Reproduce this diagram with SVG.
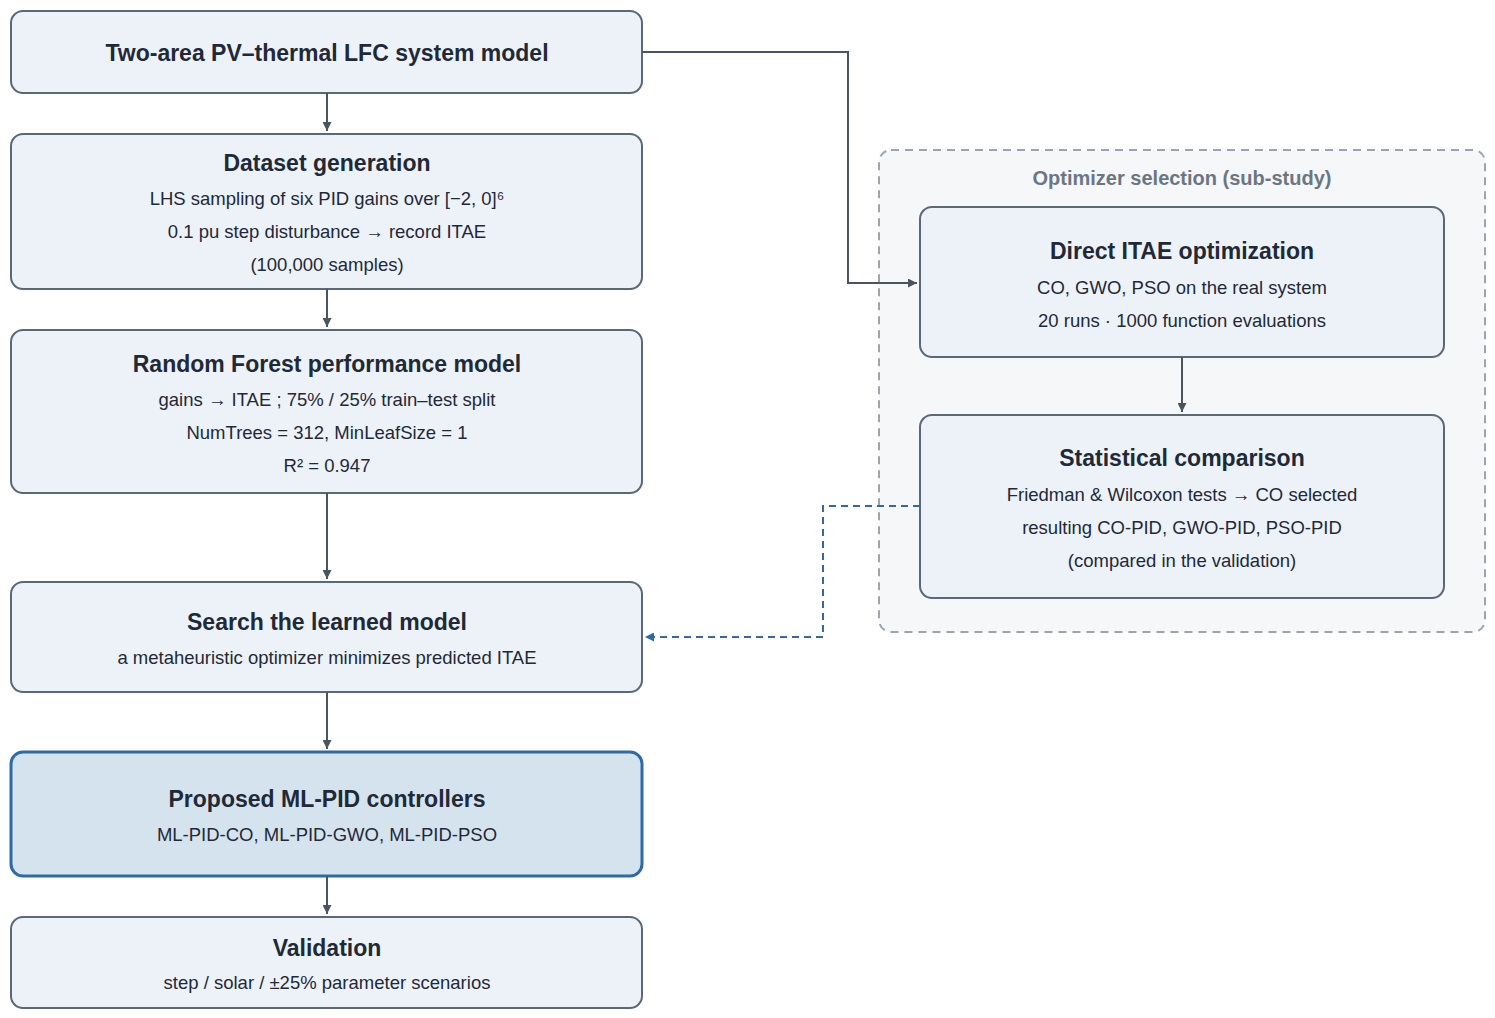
<svg xmlns="http://www.w3.org/2000/svg" width="1495" height="1018" viewBox="0 0 1495 1018">
<style>
.b{fill:#edf2f9;stroke:#5b6878;stroke-width:2}
.t{font-family:"Liberation Sans",Arial,sans-serif;font-weight:bold;font-size:23px;fill:#1f2937;text-anchor:middle}
.s{font-family:"Liberation Sans",Arial,sans-serif;font-size:18.5px;fill:#1f2937;text-anchor:middle}
.c{fill:none;stroke:#4a5563;stroke-width:2}
</style>
<defs>
<marker id="a" viewBox="0 0 10 10" refX="10" refY="5" markerWidth="9" markerHeight="9" markerUnits="userSpaceOnUse" orient="auto"><path d="M0,0L10,5L0,10z" fill="#4a5563"/></marker>
<marker id="ab" viewBox="0 0 10 10" refX="10" refY="5" markerWidth="9" markerHeight="9" markerUnits="userSpaceOnUse" orient="auto"><path d="M0,0L10,5L0,10z" fill="#2e6aa6"/></marker>
</defs>
<rect width="1495" height="1018" fill="#fff"/>
<g id="sub">
<rect x="879" y="150" width="606" height="482" rx="12" fill="#f5f7f9" stroke="#9ba5b1" stroke-width="2" stroke-dasharray="8,6"/>
<text x="1182" y="185" font-family="Liberation Sans,Arial,sans-serif" font-weight="bold" font-size="20" fill="#6b7684" text-anchor="middle">Optimizer selection (sub-study)</text>
</g>
<g id="n1"><rect class="b" x="11" y="11" width="631" height="82" rx="12"/><text class="t" x="327" y="61">Two-area PV–thermal LFC system model</text></g>
<g id="n2"><rect class="b" x="11" y="134" width="631" height="155" rx="12"/><text class="t" x="327" y="171">Dataset generation</text><text class="s" x="327" y="205">LHS sampling of six PID gains over [−2, 0]⁶</text><text class="s" x="327" y="238">0.1 pu step disturbance → record ITAE</text><text class="s" x="327" y="271">(100,000 samples)</text></g>
<g id="n3"><rect class="b" x="11" y="330" width="631" height="163" rx="12"/><text class="t" x="327" y="372">Random Forest performance model</text><text class="s" x="327" y="406">gains → ITAE ; 75% / 25% train–test split</text><text class="s" x="327" y="439">NumTrees = 312, MinLeafSize = 1</text><text class="s" x="327" y="472">R² = 0.947</text></g>
<g id="n4"><rect class="b" x="11" y="582" width="631" height="110" rx="12"/><text class="t" x="327" y="630">Search the learned model</text><text class="s" x="327" y="664">a metaheuristic optimizer minimizes predicted ITAE</text></g>
<g id="n5"><rect x="11" y="752" width="631" height="124" rx="12" fill="#d5e3ee" stroke="#2e6aa6" stroke-width="3"/><text class="t" x="327" y="807">Proposed ML-PID controllers</text><text class="s" x="327" y="841">ML-PID-CO, ML-PID-GWO, ML-PID-PSO</text></g>
<g id="n6"><rect class="b" x="11" y="917" width="631" height="91" rx="12"/><text class="t" x="327" y="956">Validation</text><text class="s" x="327" y="989">step / solar / ±25% parameter scenarios</text></g>
<g id="r1"><rect class="b" x="920" y="207" width="524" height="150" rx="12"/><text class="t" x="1182" y="259">Direct ITAE optimization</text><text class="s" x="1182" y="294">CO, GWO, PSO on the real system</text><text class="s" x="1182" y="327">20 runs · 1000 function evaluations</text></g>
<g id="r2"><rect class="b" x="920" y="415" width="524" height="183" rx="12"/><text class="t" x="1182" y="466">Statistical comparison</text><text class="s" x="1182" y="501">Friedman &amp; Wilcoxon tests → CO selected</text><text class="s" x="1182" y="534">resulting CO-PID, GWO-PID, PSO-PID</text><text class="s" x="1182" y="567">(compared in the validation)</text></g>
<g id="connectors">
<path class="c" d="M327,93V131" marker-end="url(#a)"/>
<path class="c" d="M327,289V327" marker-end="url(#a)"/>
<path class="c" d="M327,493V579" marker-end="url(#a)"/>
<path class="c" d="M327,692V749" marker-end="url(#a)"/>
<path class="c" d="M327,876V914" marker-end="url(#a)"/>
<path class="c" d="M1182,357V412" marker-end="url(#a)"/>
<path class="c" d="M642,52H848V283H917" marker-end="url(#a)"/>
<path d="M920,506H823V637H645" fill="none" stroke="#2e6aa6" stroke-width="2" stroke-dasharray="7,5" marker-end="url(#ab)"/>
</g>
</svg>
